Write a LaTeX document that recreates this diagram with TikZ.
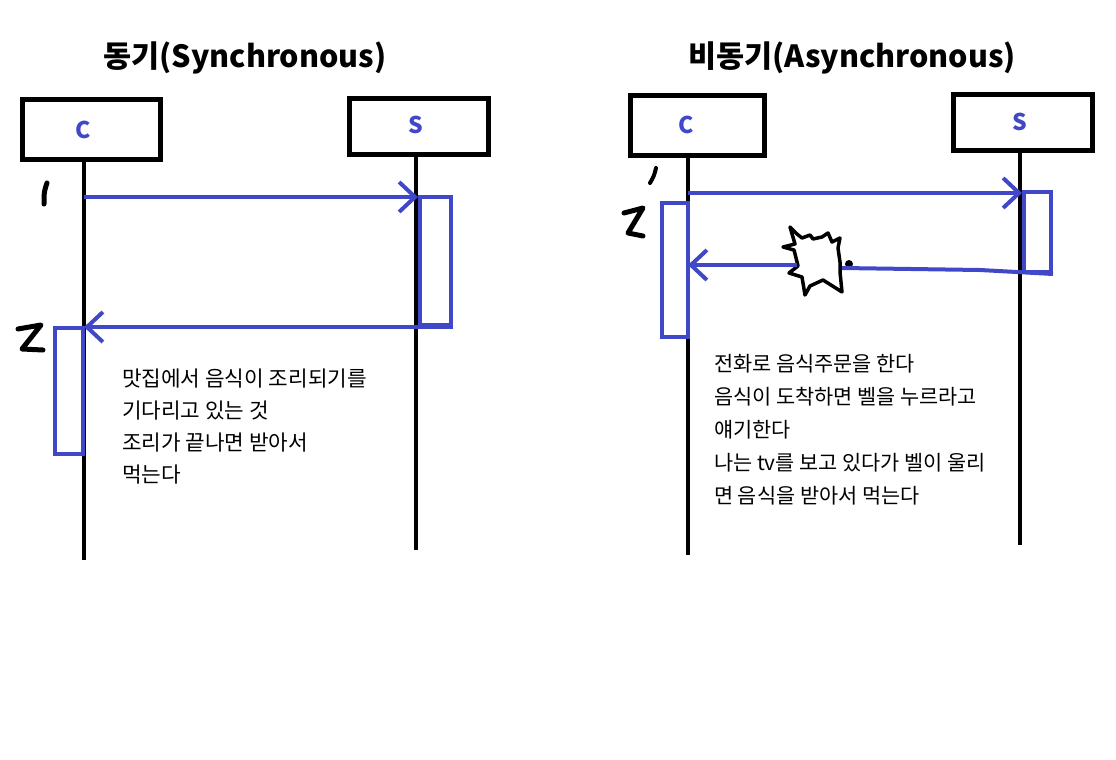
\documentclass[tikz,border=0pt]{standalone}
\usepackage{fontspec}
\setmainfont{Noto Sans CJK KR}
\usetikzlibrary{arrows.meta}
\definecolor{pen}{RGB}{64,72,200}
\begin{document}
\begin{tikzpicture}[x=1pt,y=-1pt,
  actor/.style={draw=black,line width=5pt,minimum width=#1,inner sep=0pt,anchor=north west},
  actlbl/.style={text=pen,font=\bfseries\fontsize{23}{23}\selectfont},
  life/.style={line width=4pt,black},
  msg/.style={pen,line width=4pt,-{Straight Barb[length=16pt,width=30pt,line width=4pt]}},
  bar/.style={draw=pen,line width=4pt},
  hand/.style={black,line width=5pt,line cap=round,line join=round},
  note/.style={anchor=north west,align=left,inner sep=0pt},
  ttl/.style={font=\bfseries\fontsize{30.5}{30.5}\selectfont}]
\useasboundingbox (0,0) rectangle (1116,760);
% ---------- left: synchronous ----------
\node[ttl] (t1) at (245,58) {동기(Synchronous)};
\node[actor=138pt,minimum height=60pt] (c1) at (20,97) {};
\node[actlbl] (c1l) at (83,130) {C};
\node[actor=139pt,minimum height=56pt] (s1) at (347,96) {};
\node[actlbl] (s1l) at (416,125) {S};
\coordinate (c1e) at (84,560);
\coordinate (s1e) at (416,550);
\draw[life] (c1.south -| c1e) -- (c1e);
\draw[life] (s1.south -| s1e) -- (s1e);
\node[bar,minimum width=31pt,minimum height=128pt,inner sep=0pt,anchor=north west] (sa1) at (418,195) {};
\node[bar,minimum width=28pt,minimum height=126pt,inner sep=0pt,anchor=north west] (ca1) at (53,326) {};
\coordinate (m1s) at (84,197);
\draw[msg] (m1s) -- (sa1.north west |- m1s);
\draw[msg] (sa1.south east) -- (c1e |- sa1.south east);
\draw[hand] (47,183) .. controls (44,192) .. (44,204);
\draw[hand] (18,329) -- (41,325) -- (22,349) -- (43,350);
\node[note,font=\fontsize{21.3}{32}\selectfont] (n1) at (122,369) {맛집에서 음식이 조리되기를\\기다리고 있는 것\\조리가 끝나면 받아서\\먹는다};
% ---------- right: asynchronous ----------
\node[ttl] (t2) at (852,58) {비동기(Asynchronous)};
\node[actor=134pt,minimum height=60pt] (c2) at (628,93) {};
\node[actlbl] (c2l) at (686,125) {C};
\node[actor=139pt,minimum height=56pt] (s2) at (951,92) {};
\node[actlbl] (s2l) at (1020,122) {S};
\coordinate (c2e) at (688,555);
\coordinate (s2e) at (1020,545);
\draw[life] (c2.south -| c2e) -- (c2e);
\draw[life] (s2.south -| s2e) -- (s2e);
\node[bar,minimum width=27pt,minimum height=80pt,inner sep=0pt,anchor=north west] (sa2) at (1022,190) {};
\node[bar,minimum width=26pt,minimum height=134pt,inner sep=0pt,anchor=north west] (ca2) at (660,201) {};
\coordinate (m2s) at (688,193);
\draw[msg] (m2s) -- (sa2.north west |- m2s);
% explosion (bell)
\draw[hand,line width=3.5pt,fill=white] (790,227) -- (797,234) -- (802,238) -- (810,235) -- (813,239) -- (822,237) -- (828,233) -- (832,242) -- (840,238) -- (838,248) -- (840,262) -- (840,272) -- (842,292) -- (823,280) -- (810,286) -- (805,295) -- (802,277) -- (789,273) -- (798,266) -- (794,250) -- (783,247) -- (795,244) -- cycle;
\coordinate (bR) at (842,268);
\coordinate (bL) at (797,265);
\fill (849,264) circle (4pt);
\draw[pen,line width=4pt] (sa2.south east) -- (980,270) -- (bR);
\draw[msg] (bL) -- (c2e |- bL);
\draw[hand,line width=4pt] (656,168) .. controls (654,176) .. (650,183);
\draw[hand] (624,213) -- (643,208) -- (628,233) -- (643,236);
\node[note,font=\fontsize{20.8}{33}\selectfont] (n2) at (714,354) {전화로 음식주문을 한다\\음식이 도착하면 벨을 누르라고\\얘기한다\\나는 tv를 보고 있다가 벨이 울리\\면 음식을 받아서 먹는다};
\end{tikzpicture}
\end{document}
